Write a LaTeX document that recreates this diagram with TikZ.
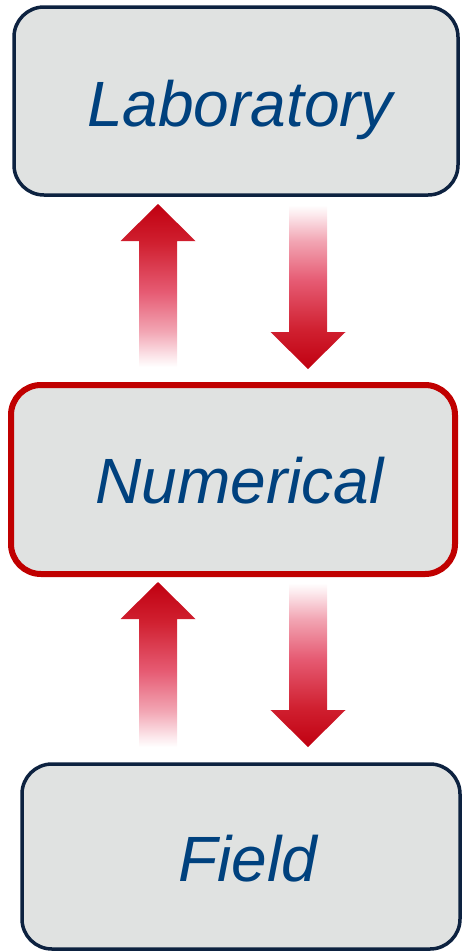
\documentclass[tikz,border=0pt]{standalone}
\usepackage{fontspec}
\setmainfont{Liberation Sans}
\definecolor{boxfill}{HTML}{E0E2E1}
\definecolor{navyline}{HTML}{0D2240}
\definecolor{redline}{HTML}{C00000}
\definecolor{txtblue}{HTML}{00417E}
\definecolor{gA}{HTML}{FCE8EC}
\definecolor{gB}{HTML}{F2A5B3}
\definecolor{gC}{HTML}{E65B73}
\definecolor{gD}{HTML}{D02030}
\definecolor{gE}{HTML}{C00010}
\pgfdeclareverticalshading{redup}{100bp}{color(0bp)=(white); color(25bp)=(white); color(28bp)=(gA); color(36bp)=(gB); color(48bp)=(gC); color(63bp)=(gD); color(75bp)=(gE); color(100bp)=(gE)}
\pgfdeclareverticalshading{reddown}{100bp}{color(0bp)=(gE); color(25bp)=(gE); color(37bp)=(gD); color(52bp)=(gC); color(64bp)=(gB); color(72bp)=(gA); color(75bp)=(white); color(100bp)=(white)}
\newcommand\myuparr[4]{% x, tip, head base, tail
  \shade[shading=redup] (#1,#2) -- (#1+37.5,#3) -- (#1+19,#3) -- (#1+19,#4) -- (#1-19,#4) -- (#1-19,#3) -- (#1-37.5,#3) -- cycle;}
\newcommand\mydownarr[4]{% x, tail, head base, tip
  \shade[shading=reddown] (#1-19,#2) -- (#1+19,#2) -- (#1+19,#3) -- (#1+37.5,#3) -- (#1,#4) -- (#1-37.5,#3) -- (#1-19,#3) -- cycle;}
\begin{document}
\begin{tikzpicture}[x=1pt,y=-1pt,
  box/.style={draw=navyline, line width=3.5pt, fill=boxfill, rounded corners=30pt, inner sep=0pt},
  redbox/.style={box, draw=redline, line width=6pt},
  lbl/.style={anchor=base, text=txtblue, font=\fontsize{64}{70}\selectfont\itshape, inner sep=0pt}]
\useasboundingbox (0,0) rectangle (462,951);
\node[box, minimum width=444pt, minimum height=188pt] (lab) at (236,101) {};
\node[redbox, minimum width=444pt, minimum height=189pt] (num) at (233,479.5) {};
\node[box, minimum width=438pt, minimum height=185pt] (fld) at (241,856.5) {};
\node[lbl] (labt) at (240,126) {Laboratory};
\node[lbl] (numt) at (239.5,503) {Numerical};
\node[lbl] (fldt) at (248,881) {Field};
\myuparr{158}{204}{241}{367}
\mydownarr{308}{205}{332}{369}
\myuparr{158}{582}{619}{747}
\mydownarr{308}{583}{710}{747}
\end{tikzpicture}
\end{document}
